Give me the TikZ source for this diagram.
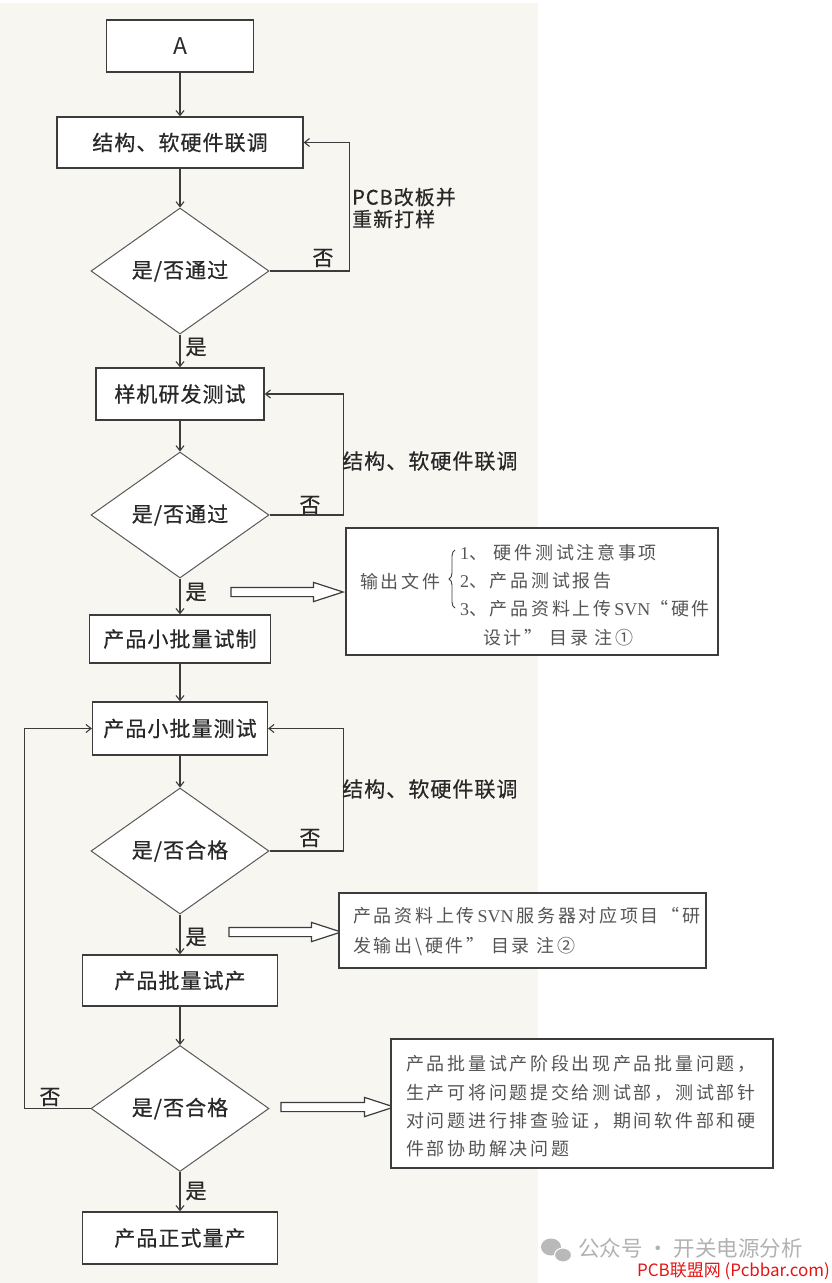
\documentclass[tikz,border=0pt]{standalone}
\usepackage{fontspec}
\setmainfont{Noto Sans CJK SC}
\newfontfamily\flowfont[LetterSpace=5,FakeBold=0.5]{Noto Sans CJK SC}
\newfontfamily\notefont[LetterSpace=15]{Noto Sans CJK SC}
\newfontfamily\serifnum{Liberation Serif}
\usetikzlibrary{shapes.geometric,shapes.arrows,arrows.meta,decorations.pathreplacing}
\definecolor{fond}{RGB}{248,246,241}
\definecolor{trait}{RGB}{60,60,60}
\definecolor{texte}{RGB}{40,40,40}
\definecolor{note}{RGB}{85,85,85}
\definecolor{rouge}{RGB}{230,20,20}

\begin{document}
\begin{tikzpicture}[x=1pt,y=-1pt]
\tikzstyle{etape} = [draw=trait,line width=1.3pt,fill=white,text=texte,font=\flowfont\fontsize{21}{24}\selectfont,inner sep=0pt]
\tikzstyle{test} = [diamond,draw=trait!85,line width=1pt,fill=white,text=texte,font=\flowfont\fontsize{21}{24}\selectfont,minimum width=178pt,minimum height=126pt,inner sep=0pt]
\tikzstyle{fleche} = [draw=trait,line width=1.1pt,-{Straight Barb[length=5pt,width=8pt]}]
\tikzstyle{etiq} = [text=texte,font=\flowfont\fontsize{21}{22}\selectfont,inner sep=0pt]
\tikzstyle{remarque} = [draw=trait,line width=1.5pt,fill=white,inner sep=0pt]
\tikzstyle{ligne} = [text=note,font=\notefont\fontsize{18}{28}\selectfont,anchor=west,inner sep=0pt,text height=16pt,text depth=2pt]
\tikzstyle{sortie} = [single arrow,draw=trait,line width=1.2pt,fill=white,inner sep=4pt,single arrow head extend=5pt,single arrow tip angle=36]

%fond de page
\useasboundingbox (0,0) rectangle (831,1283);
\fill[white] (0,0) rectangle (831,1283);
\fill[fond] (0,3) rectangle (538,1283);

%etapes du flux
\node[etape,minimum width=147pt,minimum height=52pt,font=\fontsize{23}{26}\selectfont] (A) at (180,46) {A};
\node[etape,minimum width=246pt,minimum height=51pt] (liaison) at (180,142.5) {结构、软硬件联调};
\node[test] (test1) at (180,271) {是/否通过};
\node[etape,minimum width=168pt,minimum height=52pt] (proto) at (180,394) {样机研发测试};
\node[test] (test2) at (180,515) {是/否通过};
\node[etape,minimum width=181pt,minimum height=48pt] (essai) at (180,639) {产品小批量试制};
\node[etape,minimum width=175pt,minimum height=53pt] (mesure) at (180,728.5) {产品小批量测试};
\node[test] (test3) at (180,851) {是/否合格};
\node[etape,minimum width=195pt,minimum height=51pt] (pilote) at (180,980.5) {产品批量试产};
\node[test] (test4) at (180,1108.5) {是/否合格};
\node[etape,minimum width=195pt,minimum height=52pt] (serie) at (180,1238) {产品正式量产};

%liaisons verticales
\draw[fleche] (A)--(liaison);
\draw[fleche] (liaison)--(test1);
\draw[fleche] (test1)--(proto);
\draw[fleche] (proto)--(test2);
\draw[fleche] (test2)--(essai);
\draw[fleche] (essai)--(mesure);
\draw[fleche] (mesure)--(test3);
\draw[fleche] (test3)--(pilote);
\draw[fleche] (pilote)--(test4);
\draw[fleche] (test4)--(serie);

%retours
\draw[fleche] (test1.east)--++(80,0)|-(liaison);
\draw[fleche] (test2.east)--++(74,0)|-(proto);
\draw[fleche] (test3.east)--++(74,0)|-(mesure);
\draw[fleche] (test4.west)--++(-66,0)|-(mesure);

%etiquettes
\node[etiq] (oui1) at (196,347) {是};
\node[etiq] (oui2) at (196,592) {是};
\node[etiq] (oui3) at (196,937) {是};
\node[etiq] (oui4) at (196,1191) {是};
\node[etiq] (non1) at (323,258) {否};
\node[etiq] (non2) at (310,505) {否};
\node[etiq] (non3) at (310,838) {否};
\node[etiq] (non4) at (50,1097) {否};
\node[etiq,align=left,anchor=west,font=\flowfont\fontsize{20}{22}\selectfont] (refonte) at (352,208) {PCB改板并\\重新打样};
\node[etiq,anchor=west] (reglage1) at (342,461) {结构、软硬件联调};
\node[etiq,anchor=west] (reglage2) at (342,789) {结构、软硬件联调};

%fleches creuses
\node[sortie,minimum height=112pt] (sortie1) at (280,592) {};
\node[sortie,minimum height=112pt] (sortie2) at (278,932) {};
\node[sortie,minimum height=113pt] (sortie3) at (330.5,1107) {};

%boites de remarques
\node[remarque,minimum width=372pt,minimum height=127pt] (docs) at (532,591.5) {};
\node[ligne] (fichiers) at (360,581) {输出文件};
\draw[trait,line width=0.9pt,decorate,decoration={brace,amplitude=6pt}] (455,608)--(455,550);
\node[ligne] (doc1) at (460,552) {{\serifnum 1}、 硬件测试注意事项};
\node[ligne] (doc2) at (460,580) {{\serifnum 2}、产品测试报告};
\node[ligne] (doc3) at (460,608) {{\serifnum 3}、产品资料上传\,{\serifnum SVN}“硬件};
\node[ligne] (doc4) at (483,637) {设计” 目录 注①};

\node[remarque,minimum width=367pt,minimum height=75pt] (svn) at (522.5,930.5) {};
\node[ligne] (svn1) at (353,915) {产品资料上传\,{\serifnum SVN}\,服务器对应项目“研};
\node[ligne] (svn2) at (353,945) {发输出\textbackslash 硬件” 目录 注②};

\node[remarque,minimum width=382pt,minimum height=129pt] (probleme) at (582,1103.5) {};
\node[ligne] (prob1) at (406,1063) {产品批量试产阶段出现产品批量问题，};
\node[ligne] (prob2) at (406,1092) {生产可将问题提交给测试部，测试部针};
\node[ligne] (prob3) at (406,1120) {对问题进行排查验证，期间软件部和硬};
\node[ligne] (prob4) at (406,1148) {件部协助解决问题};

%filigrane
\fill[gray!55] (551,1247) ellipse (10 and 8.5);
\fill[gray!55,draw=white,line width=1pt] (563,1255) ellipse (8.5 and 7);
\node[text=gray!60,font=\fontsize{21.5}{24}\selectfont,anchor=west,inner sep=0pt] (compte) at (578,1248) {公众号 · 开关电源分析};
\node[text=rouge,font=\fontsize{17}{20}\selectfont,anchor=east,inner sep=0pt] (site) at (830,1271) {PCB联盟网 (Pcbbar.com)};
\end{tikzpicture}
\end{document}
